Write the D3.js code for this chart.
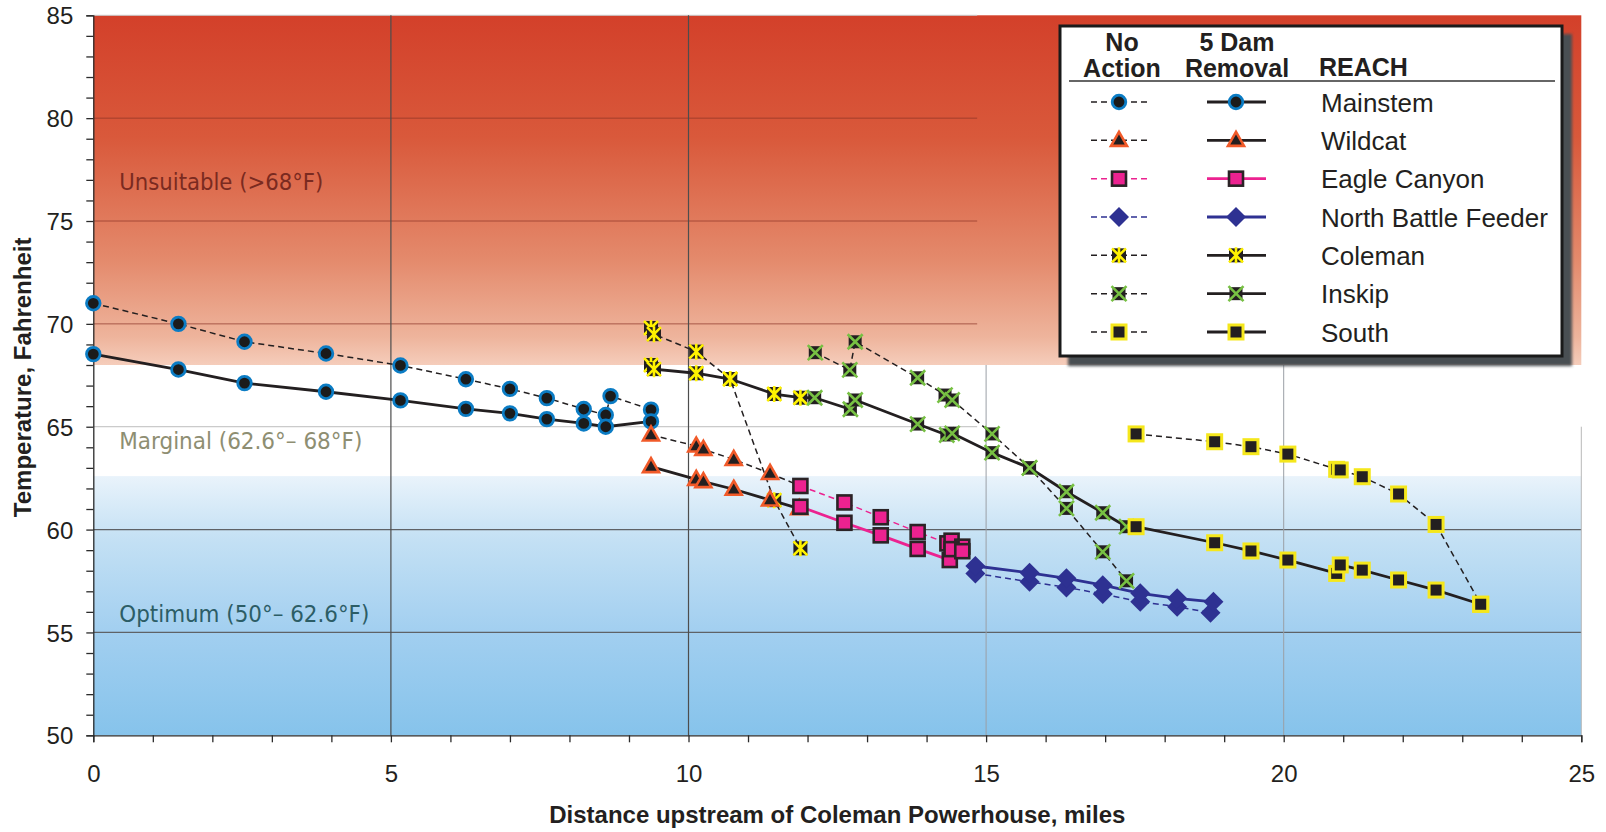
<!DOCTYPE html>
<html>
  <head>
    <meta charset="utf-8">
    <title>Stream temperature by reach</title>
    <style type="text/css">
     html, body {
       margin: 0;
       padding: 0;
       background: #fff;
     }
     svg {
       display: block;
       font-family: "Liberation Sans", Arial, sans-serif;
     }
     .tick text {
       font-size: 24px;
       fill: #231f20;
     }
     .axis-title {
       font-size: 24px;
       font-weight: bold;
       fill: #231f20;
     }
     .zone {
       font-family: "DejaVu Sans Condensed", "DejaVu Sans", sans-serif;
       font-size: 23px;
     }
     .legend text {
       font-size: 26px;
       fill: #231f20;
     }
     .legend .head {
       font-size: 25px;
       font-weight: bold;
     }
    </style>
  </head>
  <body>
    <svg width="1606" height="832"></svg>
    <script src="https://cdn.jsdelivr.net/npm/d3@7"></script>
    <script>
     // miles upstream, deg F
     var mainstemNoAction = [[0, 71.0], [1.43, 70.0], [2.54, 69.13], [3.91, 68.56], [5.16, 67.98], [6.26, 67.31],
                             [7.0, 66.84], [7.62, 66.39], [8.24, 65.86], [8.61, 65.57], [8.69, 66.49], [9.37, 65.83]];
     var mainstemDam = [[0, 68.53], [1.43, 67.78], [2.54, 67.12], [3.91, 66.70], [5.16, 66.28], [6.26, 65.87],
                        [7.0, 65.65], [7.62, 65.37], [8.24, 65.16], [8.61, 65.0], [9.37, 65.26]];

     var wildcatNoAction = [[9.37, 64.60], [10.13, 64.06], [10.25, 63.9], [10.76, 63.41], [11.37, 62.73]];
     var wildcatDam = [[9.37, 63.06], [10.13, 62.44], [10.25, 62.33], [10.76, 61.96], [11.37, 61.44], [11.86, 61.02]];

     var eagleNoAction = [[11.88, 62.12], [12.62, 61.32], [13.23, 60.60], [13.85, 59.88], [14.35, 59.33], [14.42, 59.46], [14.60, 59.17]];
     var eagleDam = [[11.88, 61.11], [12.62, 60.33], [13.23, 59.72], [13.85, 59.06], [14.39, 58.52], [14.42, 59.05], [14.60, 58.95]];

     var feederNoAction = [[14.82, 57.87], [15.73, 57.46], [16.35, 57.19], [16.96, 56.87], [17.59, 56.49], [18.21, 56.25], [18.77, 55.96]];
     var feederDam = [[14.82, 58.23], [15.73, 57.9], [16.35, 57.63], [16.96, 57.30], [17.59, 56.90], [18.21, 56.66], [18.82, 56.49]];

     var colemanNoAction = [[9.37, 69.8], [9.42, 69.5], [10.13, 68.65], [10.70, 67.32], [11.44, 61.43], [11.88, 59.09]];
     var colemanDam = [[9.37, 68.0], [9.42, 67.8], [10.13, 67.6], [10.70, 67.32], [11.44, 66.59], [11.88, 66.41]];

     var inskipNoAction = [[12.13, 68.6], [12.71, 67.76], [12.80, 69.13], [13.85, 67.38], [14.31, 66.54], [14.43, 66.30],
                           [15.10, 64.65], [15.73, 63.0], [16.35, 61.03], [16.96, 58.92], [17.36, 57.51]];
     var inskipDam = [[12.12, 66.41], [12.72, 65.85], [12.80, 66.3], [13.85, 65.13], [14.34, 64.60], [14.43, 64.68],
                      [15.10, 63.74], [15.73, 63.0], [16.35, 61.84], [16.96, 60.82], [17.36, 60.14]];

     var southNoAction = [[17.52, 64.65], [18.84, 64.27], [19.45, 64.03], [20.07, 63.67], [20.89, 62.93], [20.95, 62.9],
                          [21.32, 62.57], [21.93, 61.73], [22.56, 60.25], [23.31, 56.37]];
     var southDam = [[17.52, 60.14], [18.84, 59.36], [19.45, 58.96], [20.07, 58.52], [20.89, 57.87], [20.95, 58.28],
                     [21.32, 58.03], [21.93, 57.55], [22.56, 57.06], [23.31, 56.37]];

     var reaches = ["Mainstem", "Wildcat", "Eagle Canyon", "North Battle Feeder", "Coleman", "Inskip", "South"];
     var legendHeads = [["No", "Action"], ["5 Dam", "Removal"], ["REACH"]];

     // where one reach's line runs on into the next one
     var joins = [["Wildcat", "Eagle Canyon", "na"], ["Coleman", "Inskip", "dam"], ["Inskip", "South", "dam"]];

     // temperature bands
     var zones = [
       {label: "Unsuitable (>68°F)", lo: 68, hi: 85, at: 76.5, fill: "url(#hot)", color: "#7a2a20", len: 204},
       {label: "Marginal (62.6°– 68°F)", lo: 62.6, hi: 68, at: 63.9, fill: "#fff", color: "#8e8e72", len: 243},
       {label: "Optimum (50°– 62.6°F)", lo: 50, hi: 62.6, at: 55.5, fill: "url(#cold)", color: "#2c5d66", len: 250}
     ];

     var xTicks = [0, 5, 10, 15, 20, 25];
     var yTicks = [50, 55, 60, 65, 70, 75, 80, 85];

     var series = {
       "Mainstem": {na: mainstemNoAction, dam: mainstemDam, line: "#231f20", mark: "circle"},
       "Wildcat": {na: wildcatNoAction, dam: wildcatDam, line: "#231f20", mark: "triangle"},
       "Eagle Canyon": {na: eagleNoAction, dam: eagleDam, line: "#ec2290", mark: "pink"},
       "North Battle Feeder": {na: feederNoAction, dam: feederDam, line: "#2e3192", mark: "diamond"},
       "Coleman": {na: colemanNoAction, dam: colemanDam, line: "#231f20", mark: "coleman"},
       "Inskip": {na: inskipNoAction, dam: inskipDam, line: "#231f20", mark: "inskip"},
       "South": {na: southNoAction, dam: southDam, line: "#231f20", mark: "south"}
     };
     var drawOrder = ["Mainstem", "Coleman", "Inskip", "Wildcat", "Eagle Canyon", "North Battle Feeder", "South"];

     var svg = d3.select("svg");

     var x = d3.scaleLinear().domain([0, 25]).range([93.3, 1581.3]);
     var y = d3.scaleLinear().domain([50, 85]).range([735.3, 15.3]);

     var defs = svg.append("defs");
     var hot = defs.append("linearGradient").attr("id", "hot")
                   .attr("x1", 0).attr("y1", 0).attr("x2", 0).attr("y2", 1);
     [[0, "#d3402a"], [0.35, "#d9593b"], [0.7, "#e48a6c"], [0.92, "#eeb49c"], [1, "#f5cdbb"]].forEach(function(s) {
       hot.append("stop").attr("offset", s[0]).attr("stop-color", s[1]);
     });
     var cold = defs.append("linearGradient").attr("id", "cold")
                    .attr("x1", 0).attr("y1", 0).attr("x2", 0).attr("y2", 1);
     [[0, "#e9f3fb"], [0.25, "#c3e0f4"], [0.6, "#a2cff0"], [1, "#86c3eb"]].forEach(function(s) {
       cold.append("stop").attr("offset", s[0]).attr("stop-color", s[1]);
     });
     defs.append("filter").attr("id", "soft")
         .append("feGaussianBlur").attr("stdDeviation", 1.5);

     // bands
     var bands = svg.append("g");
     bands.selectAll("rect")
          .data(zones)
          .enter().append("rect")
          .attr("x", x(0))
          .attr("width", x(25) - x(0))
          .attr("y", (d) => y(d.hi))
          .attr("height", (d) => y(d.lo) - y(d.hi))
          .attr("fill", (d) => d.fill);

     // grid
     var grid = svg.append("g").attr("fill", "none");
     grid.selectAll("line.hot")
         .data([70, 75, 80])
         .enter().append("line")
         .attr("x1", x(0)).attr("x2", x(14.85))
         .attr("y1", (d) => y(d)).attr("y2", (d) => y(d))
         .attr("stroke", "#8c3526").attr("stroke-opacity", 0.7);
     grid.append("line")
         .attr("x1", x(0)).attr("x2", x(14.85))
         .attr("y1", y(85)).attr("y2", y(85))
         .attr("stroke", "#c9c9c9");
     grid.append("line")
         .attr("x1", x(0)).attr("x2", x(14.85))
         .attr("y1", y(65)).attr("y2", y(65))
         .attr("stroke", "#bdbdbd");
     grid.selectAll("line.cold")
         .data([55, 60])
         .enter().append("line")
         .attr("x1", x(0)).attr("x2", x(25))
         .attr("y1", (d) => y(d)).attr("y2", (d) => y(d))
         .attr("stroke", "#5f6266").attr("stroke-width", 1.2);
     grid.selectAll("line.v1")
         .data([5, 10])
         .enter().append("line")
         .attr("x1", (d) => x(d)).attr("x2", (d) => x(d))
         .attr("y1", y(85)).attr("y2", y(50))
         .attr("stroke", "#4d4d4d").attr("stroke-width", 1.2);
     grid.selectAll("line.v2")
         .data([15, 20])
         .enter().append("line")
         .attr("x1", (d) => x(d)).attr("x2", (d) => x(d))
         .attr("y1", y(68)).attr("y2", y(50))
         .attr("stroke", "#9a9fa6");
     grid.append("line")
         .attr("x1", x(25)).attr("x2", x(25))
         .attr("y1", y(65)).attr("y2", y(50))
         .attr("stroke", "#b8b8b8");

     // zone labels
     svg.append("g").selectAll("text")
        .data(zones)
        .enter().append("text")
        .attr("class", "zone")
        .attr("x", x(0) + 26)
        .attr("y", (d) => y(d.at))
        .attr("textLength", (d) => d.len)
        .attr("lengthAdjust", "spacingAndGlyphs")
        .attr("fill", (d) => d.color)
        .text((d) => d.label);

     // axes
     var xAxis = svg.append("g")
                    .attr("transform", "translate(0," + y(50) + ")")
                    .call(d3.axisBottom(x).ticks(25).tickSize(7).tickFormat((d) => xTicks.indexOf(d) >= 0 ? d : ""));
     xAxis.selectAll(".tick text").attr("dy", "1.55em");
     var yAxis = svg.append("g")
                    .attr("transform", "translate(" + x(0) + ",0)")
                    .call(d3.axisLeft(y).ticks(35).tickSize(7).tickFormat((d) => yTicks.indexOf(d) >= 0 ? d : ""));
     yAxis.selectAll(".tick text").attr("x", -20).attr("dy", "0.36em");
     [xAxis, yAxis].forEach(function(a) {
       a.select(".domain").attr("stroke", "#2b2b2b").attr("stroke-width", 1.3);
       a.selectAll(".tick line").attr("stroke", "#2b2b2b").attr("stroke-width", 1.3);
     });

     svg.append("text")
        .attr("class", "axis-title")
        .attr("x", (x(0) + x(25)) / 2)
        .attr("y", 823)
        .attr("text-anchor", "middle")
        .text("Distance upstream of Coleman Powerhouse, miles");
     svg.append("text")
        .attr("class", "axis-title")
        .attr("transform", "translate(31," + y(67.4) + ") rotate(-90)")
        .attr("text-anchor", "middle")
        .text("Temperature, Fahrenheit");

     // markers
     function drawMark(g, kind) {
       switch (kind) {
         case "circle":
           g.append("circle").attr("r", 6.8).attr("fill", "#1b1b1b")
            .attr("stroke", "#0b7cc4").attr("stroke-width", 2.8);
           break;
         case "triangle":
           g.append("path").attr("d", "M0,-8.5L8,5.5L-8,5.5Z").attr("fill", "#231f20")
            .attr("stroke", "#f15a29").attr("stroke-width", 2.6);
           break;
         case "pink":
           g.append("rect").attr("x", -7).attr("y", -7).attr("width", 14).attr("height", 14)
            .attr("fill", "#ec2290").attr("stroke", "#2b2326").attr("stroke-width", 2.6);
           break;
         case "diamond":
           g.append("path").attr("d", "M0,-10L10,0L0,10L-10,0Z").attr("fill", "#2e3192");
           break;
         case "coleman":
           g.append("rect").attr("x", -7).attr("y", -7).attr("width", 14).attr("height", 14).attr("fill", "#231f20");
           g.append("path").attr("d", "M-7,-7L7,7M7,-7L-7,7M0,-8L0,8")
            .attr("stroke", "#fff200").attr("stroke-width", 2.6);
           break;
         case "inskip":
           g.append("rect").attr("x", -6.5).attr("y", -6.5).attr("width", 13).attr("height", 13).attr("fill", "#231f20");
           g.append("path").attr("d", "M-7.5,-7.5L7.5,7.5M7.5,-7.5L-7.5,7.5")
            .attr("stroke", "#77c043").attr("stroke-width", 2.6);
           break;
         case "south":
           g.append("rect").attr("x", -7).attr("y", -7).attr("width", 14).attr("height", 14)
            .attr("fill", "#231f20").attr("stroke", "#f5e71c").attr("stroke-width", 3);
           break;
       }
     }

     function lineStyle(sel, color, scen) {
       if (scen == "na") {
         sel.attr("stroke", color).attr("stroke-width", 1.5).attr("stroke-dasharray", "6,4");
       } else {
         sel.attr("stroke", color).attr("stroke-width", 2.8);
       }
     }

     var line = d3.line().x((d) => x(d[0])).y((d) => y(d[1]));
     var lines = svg.append("g").attr("fill", "none");
     drawOrder.forEach(function(name) {
       ["na", "dam"].forEach(function(scen) {
         lineStyle(lines.append("path").attr("d", line(series[name][scen])), series[name].line, scen);
       });
     });
     joins.forEach(function(j) {
       var a = series[j[0]][j[2]], b = series[j[1]][j[2]];
       lineStyle(lines.append("path").attr("d", line([a[a.length - 1], b[0]])), series[j[0]].line, j[2]);
     });

     var marks = svg.append("g");
     drawOrder.forEach(function(name) {
       ["na", "dam"].forEach(function(scen) {
         marks.append("g")
              .selectAll("g")
              .data(series[name][scen])
              .enter().append("g")
              .attr("transform", (d) => "translate(" + x(d[0]) + "," + y(d[1]) + ")")
              .each(function() { drawMark(d3.select(this), series[name].mark); });
       });
     });

     // legend
     var legend = svg.append("g").attr("class", "legend");
     legend.append("rect")
           .attr("x", 1068).attr("y", 34).attr("width", 504).attr("height", 332)
           .attr("fill", "#485052").attr("filter", "url(#soft)");
     legend.append("rect")
           .attr("x", 1060).attr("y", 26).attr("width", 502).attr("height", 330)
           .attr("fill", "#fff").attr("stroke", "#1a1a1a").attr("stroke-width", 3);

     var headX = [1122, 1237, 1319];
     legendHeads.forEach(function(h, i) {
       var t = legend.append("text").attr("class", "head")
                     .attr("text-anchor", i < 2 ? "middle" : "start");
       if (h.length == 2) {
         t.append("tspan").attr("x", headX[i]).attr("y", 51).text(h[0]);
         t.append("tspan").attr("x", headX[i]).attr("y", 76.5).text(h[1]);
       } else {
         t.attr("x", headX[i]).attr("y", 75.5).text(h[0]);
       }
     });
     legend.append("line")
           .attr("x1", 1069).attr("x2", 1555).attr("y1", 81).attr("y2", 81)
           .attr("stroke", "#333").attr("stroke-width", 1.5);

     var rowY = d3.scaleLinear().domain([0, 6]).range([102, 332]);
     var rows = legend.selectAll("g.row")
                      .data(reaches)
                      .enter().append("g")
                      .attr("class", "row")
                      .attr("transform", (d, i) => "translate(0," + rowY(i) + ")");
     rows.each(function(name) {
       var g = d3.select(this), s = series[name];
       lineStyle(g.append("line").attr("x1", 1091).attr("x2", 1148), s.line, "na");
       lineStyle(g.append("line").attr("x1", 1207).attr("x2", 1266), s.line, "dam");
       drawMark(g.append("g").attr("transform", "translate(1119,0)"), s.mark);
       drawMark(g.append("g").attr("transform", "translate(1236,0)"), s.mark);
       g.append("text").attr("x", 1321).attr("y", 9.5).text(name);
     });
    </script>
  </body>
</html>
